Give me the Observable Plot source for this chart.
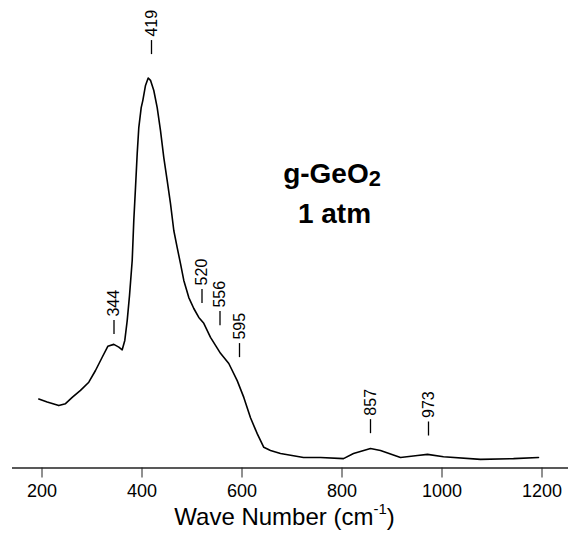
<!DOCTYPE html>
<html><head><meta charset="utf-8">
<script src="https://cdn.jsdelivr.net/npm/d3@7"></script>
<script src="https://cdn.jsdelivr.net/npm/@observablehq/plot@0.6"></script>
<style>body{margin:0;background:#fff}</style>
</head><body><div id="chart"></div>
<script>
// Raman spectrum of g-GeO2 at 1 atm (intensity in arbitrary units, peak = 100)
const waveNumber = [193.6,210.4,233.6,247,260.4,277,293.6,307,320.4,331.6,343.6,353.6,360.4,365.6,370.4,375,380.4,383.6,387,390.4,393.6,398.4,401.6,407,412.4,417,423.6,430.4,437,443.6,450.4,457,463.6,470.4,477,483.6,493.6,503.6,513.6,523.6,537,557,573.6,590.4,603.6,617,630.4,643.6,657,677,723,757,803,823,857,877,917,951,971,1003,1077,1143,1193];
const intensity = [17.7,16.9,16.0,16.5,18.1,19.9,22.0,25.0,28.4,31.2,31.7,31.0,30.3,32.7,37.8,44.2,53.2,63.5,71.9,80.6,87.3,92.4,94.2,98.1,100,99.4,96.8,92.4,86.5,79.6,73.7,67.8,60.9,56.5,52.4,48.1,43.7,40.9,38.6,37.1,33.5,29.4,26.8,22.4,18.1,12.9,8.8,5.3,4.5,3.7,2.7,2.7,2.4,3.7,5.0,4.5,2.7,3.2,3.5,2.9,2.2,2.4,2.7];
const peakLabels = ["344","419","520","556","595","857","973"];
const peakMarkHeight = [34.2,106,42.2,36.5,28.3,8.8,8.2];
const markLength = 3.6; // marker dash length, intensity units
const xTicks = [200,400,600,800,1000,1200];
const titleLines = ["g-GeO2","1 atm"];
const titleX = [780,785];
const titleY = [73,62.7];
const xLabel = "Wave Number (cm-1)";

const spectrum = waveNumber.map((w,i)=>({w, I:intensity[i]}));
const peaks = peakLabels.map((p,i)=>({x:+p, y1:peakMarkHeight[i], y2:peakMarkHeight[i]+markLength, t:p}));
const titles = titleLines.map((t,i)=>({t, x:titleX[i], y:titleY[i]}));

const chart = Plot.plot({
  width:568, height:534,
  marginLeft:12, marginRight:0, marginTop:77.5, marginBottom:66.5,
  style:{fontFamily:"'Liberation Sans', Arial, sans-serif", background:"#fff", color:"#000", overflow:"visible"},
  x:{domain:[141,1253]},
  y:{domain:[0,100], axis:null},
  marks:[
    Plot.axisX({ticks:xTicks, tickSize:10, tickPadding:6, fontSize:18, label:null, tickFormat:d=>String(d), stroke:"#222"}),
    Plot.ruleY([0], {stroke:"#222", strokeWidth:1.3}),
    Plot.line(spectrum, {x:"w", y:"I", stroke:"#000", strokeWidth:1.6}),
    Plot.ruleX(peaks, {x:"x", y1:"y1", y2:"y2", stroke:"#000", strokeWidth:1.3}),
    Plot.text(peaks, {x:"x", y:"y2", text:"t", rotate:-90, textAnchor:"start", dy:-4, fontSize:16, fill:"#000"}),
    Plot.text(titles, {x:"x", y:"y", text:"t", fontWeight:"bold", fontSize:28, lineAnchor:"bottom", fill:"#000"}),
    Plot.text([xLabel], {text:d=>d, frameAnchor:"bottom", dy:57, dx:-6, fontSize:24, lineAnchor:"bottom", fill:"#000"})
  ]
});
document.getElementById("chart").appendChild(chart);

// typographic sub/superscripts
d3.select(chart).selectAll("text").each(function(){
  const el = d3.select(this);
  const s = this.textContent;
  if (s === "g-GeO2") {
    el.text(null);
    el.append("tspan").text("g-GeO");
    el.append("tspan").attr("font-size","78%").attr("dy","0.12em").text("2");
  } else if (s === xLabel) {
    el.text(null);
    el.append("tspan").text("Wave Number (cm");
    el.append("tspan").attr("font-size","62%").attr("dy","-0.75em").text("-1");
    el.append("tspan").attr("dy","0.47em").text(")");
  }
});
</script>
</body></html>
